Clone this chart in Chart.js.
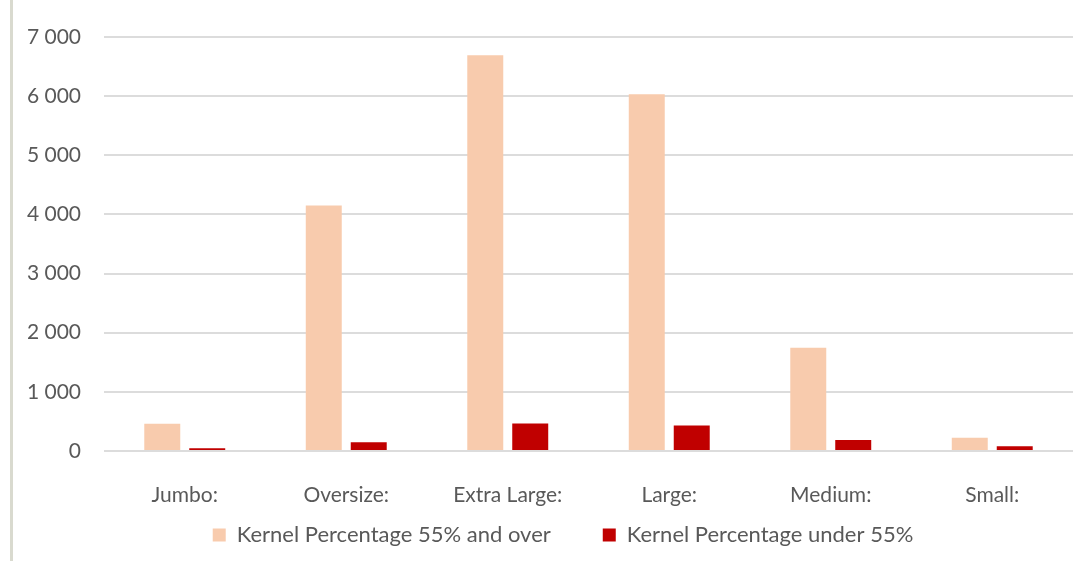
<!DOCTYPE html>
<html>
<head>
<meta charset="utf-8">
<script src="https://cdn.jsdelivr.net/npm/chart.js@4/dist/chart.umd.min.js"></script>
<style>
  html, body { margin: 0; padding: 0; background: #fff; }
  #wrap { position: relative; width: 1086px; height: 561px; }
  #edge { position: absolute; left: 10px; top: 0; width: 3px; height: 561px; background: #d9dacf; }
  canvas { position: absolute; left: 0; top: 0; }
</style>
</head>
<body>
<div id="wrap">
  <div id="edge"></div>
  <canvas id="chart" width="1086" height="561"></canvas>
</div>
<script>
// categories and values
const categories = ["Jumbo:", "Oversize:", "Extra Large:", "Large:", "Medium:", "Small:"];
const over55 = [460, 4150, 6690, 6030, 1745, 225];
const under55 = [45, 150, 465, 430, 185, 80];
const seriesNames = ["Kernel Percentage 55% and over", "Kernel Percentage under 55%"];
const yMax = 7000;
const yStep = 1000;

const textColor = "#595959";
const gridColor = "#dcdcdc";

// "7 000" style, space as thousands separator
function spaced(v) {
  return String(v).replace(/\B(?=(\d{3})+(?!\d))/g, " ");
}

// legend sits closer to the axis labels than chart.js would put it,
// and a bit right of the canvas centre (legend clips to its own box)
const legendPlace = {
  id: "legendPlace",
  afterLayout(chart) {
    const lg = chart.legend;
    lg.top = 472;
    lg.bottom = 561;
    lg.height = 89;
    lg.left += 14;
    lg.right += 14;
  },
};

Chart.defaults.font.family = "Lato, 'Open Sans', sans-serif";
Chart.defaults.font.size = 21;
Chart.defaults.color = textColor;

const ctx = document.getElementById("chart").getContext("2d");
new Chart(ctx, {
  type: "bar",
  data: {
    labels: categories,
    datasets: [
      {
        label: seriesNames[0],
        data: over55,
        backgroundColor: "#f8cbad",
        borderWidth: 0,
        categoryPercentage: 0.557,
        barPercentage: 0.8,
      },
      {
        label: seriesNames[1],
        data: under55,
        backgroundColor: "#c00000",
        borderWidth: 0,
        categoryPercentage: 0.557,
        barPercentage: 0.8,
      },
    ],
  },
  options: {
    responsive: false,
    animation: false,
    layout: {
      padding: { top: 37, left: 25, right: 13, bottom: 4 },
    },
    scales: {
      x: {
        grid: { display: false },
        border: { display: false },
        ticks: { padding: 24, color: textColor },
        afterFit: (scale) => { scale.height = 56; },
      },
      y: {
        min: 0,
        max: yMax,
        ticks: {
          stepSize: yStep,
          padding: 23,
          color: textColor,
          callback: (v) => spaced(v),
        },
        grid: { color: gridColor, lineWidth: 2, drawTicks: false },
        border: { display: false },
        afterFit: (scale) => { scale.width = 79; },
      },
    },
    plugins: {
      legend: {
        position: "bottom",
        maxHeight: 50,
        labels: {
          boxWidth: 13,
          boxHeight: 13,
          padding: 52,
          color: textColor,
          font: { size: 22 },
        },
      },
      tooltip: { enabled: false },
    },
  },
  plugins: [legendPlace],
});
</script>
</body>
</html>
